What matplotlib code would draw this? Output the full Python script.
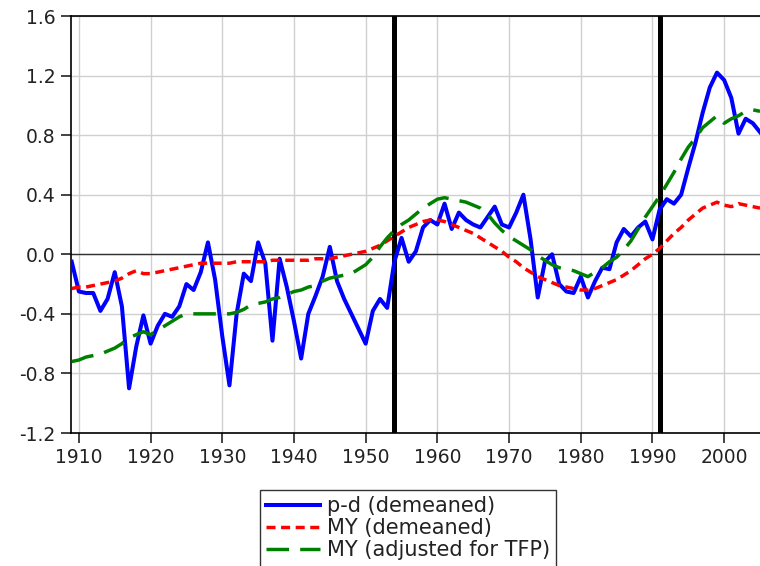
import matplotlib
matplotlib.use("Agg")
import matplotlib.pyplot as plt
import numpy as np

years = list(range(1909, 2006))

pd_demeaned = [
    -0.05, -0.25, -0.26, -0.26, -0.38, -0.30, -0.12, -0.35, -0.90, -0.62,
    -0.41, -0.60, -0.48, -0.40, -0.42, -0.35, -0.20, -0.24, -0.12, 0.08,
    -0.17, -0.55, -0.88, -0.40, -0.13, -0.18, 0.08, -0.06, -0.58, -0.03,
    -0.22, -0.45, -0.70, -0.40, -0.28, -0.15, 0.05, -0.18, -0.30, -0.40,
    -0.50, -0.60, -0.38, -0.30, -0.36, -0.05, 0.11, -0.05, 0.02, 0.18,
    0.23, 0.20, 0.34, 0.17, 0.28, 0.23, 0.20, 0.18, 0.25, 0.32,
    0.20, 0.18, 0.28, 0.40, 0.10, -0.29, -0.05, 0.00, -0.20, -0.25,
    -0.26, -0.15, -0.29, -0.18, -0.09, -0.10, 0.08, 0.17, 0.12, 0.18,
    0.22, 0.10, 0.30, 0.37, 0.34, 0.40, 0.58, 0.75, 0.95, 1.12,
    1.22, 1.17, 1.05, 0.81, 0.91, 0.88, 0.82,
]

my_demeaned = [
    -0.23, -0.22, -0.22, -0.21, -0.20, -0.19, -0.18, -0.16, -0.13, -0.11,
    -0.13, -0.13, -0.12, -0.11, -0.10, -0.09, -0.08, -0.07, -0.06, -0.06,
    -0.06, -0.06, -0.06, -0.05, -0.05, -0.05, -0.05, -0.05, -0.04, -0.04,
    -0.04, -0.04, -0.04, -0.04, -0.03, -0.03, -0.03, -0.02, -0.01, 0.00,
    0.01, 0.02, 0.04, 0.06, 0.09, 0.12, 0.15, 0.18, 0.20, 0.22,
    0.23, 0.23, 0.22, 0.20, 0.18, 0.16, 0.14, 0.11, 0.08, 0.05,
    0.02, -0.02, -0.05, -0.09, -0.12, -0.15, -0.17, -0.19, -0.21, -0.22,
    -0.23, -0.24, -0.24, -0.23, -0.21, -0.19, -0.17, -0.14, -0.11, -0.07,
    -0.03, 0.00, 0.04, 0.09, 0.14, 0.18, 0.23, 0.27, 0.31, 0.33,
    0.35, 0.33, 0.32, 0.34, 0.33, 0.32, 0.31,
]

my_tfp = [
    -0.72, -0.71, -0.69, -0.68, -0.67, -0.65, -0.63, -0.60, -0.56, -0.54,
    -0.52, -0.54, -0.51, -0.48, -0.45, -0.42, -0.40, -0.40, -0.40, -0.40,
    -0.40, -0.40, -0.40, -0.39, -0.37, -0.34, -0.33, -0.32, -0.30, -0.29,
    -0.27, -0.25, -0.24, -0.22, -0.21, -0.18, -0.16, -0.15, -0.14, -0.13,
    -0.10, -0.07, -0.02, 0.05, 0.11, 0.16, 0.20, 0.23, 0.27, 0.31,
    0.34, 0.37, 0.38, 0.37, 0.36, 0.35, 0.33, 0.31, 0.27, 0.21,
    0.16, 0.12, 0.09, 0.06, 0.03, -0.01, -0.04, -0.07, -0.09, -0.10,
    -0.11, -0.13, -0.15, -0.12, -0.09, -0.05, -0.02, 0.03, 0.09, 0.17,
    0.25, 0.32, 0.39, 0.47, 0.55, 0.64, 0.72, 0.78, 0.85, 0.89,
    0.93, 0.88, 0.91, 0.93, 0.96, 0.97, 0.96,
]

labels = ["p-d (demeaned)", "MY (demeaned)", "MY (adjusted for TFP)"]
break_years = [1954, 1991]
x_ticks = [1910, 1920, 1930, 1940, 1950, 1960, 1970, 1980, 1990, 2000]
y_ticks = [-1.2, -0.8, -0.4, 0.0, 0.4, 0.8, 1.2, 1.6]

W, H = 760, 566
fig = plt.figure(figsize=(W / 100, H / 100), dpi=100)
ax = fig.add_axes([71 / W, 1 - 433 / H, (760 - 71) / W, (433 - 16) / H])

ax.set_xlim(1908.9, 2005.0)
ax.set_ylim(-1.2, 1.6)
ax.set_xticks(x_ticks)
ax.set_yticks(y_ticks)
ax.set_yticklabels([f"{v:.1f}" for v in y_ticks])
ax.grid(True, color="#d0d0d0", linewidth=1.0, zorder=0)
ax.set_axisbelow(True)
ax.axhline(0.0, color="#333333", linewidth=1.0, zorder=1)
for by in break_years:
    ax.axvline(by, color="black", linewidth=3.6, zorder=2)

l1, = ax.plot(years, pd_demeaned, color="#0000ff", linewidth=2.9, zorder=3,
              solid_joinstyle="round")
l2, = ax.plot(years, my_demeaned, color="#ff0000", linewidth=2.5, zorder=4,
              linestyle=(0, (2.6, 1.6)))
l3, = ax.plot(years, my_tfp, color="#008000", linewidth=2.5, zorder=5,
              linestyle=(0, (6.5, 3.2)))

for s in ["left", "bottom", "top"]:
    ax.spines[s].set_color("black")
    ax.spines[s].set_linewidth(1.2)
ax.spines["right"].set_visible(False)
ax.tick_params(axis="both", direction="out", length=7, width=1.2,
               labelsize=13.5, pad=4, colors="#222222")

leg = fig.legend([l1, l2, l3], labels, loc="upper left",
                 bbox_to_anchor=(260 / W, 1 - 490 / H),
                 bbox_transform=fig.transFigure, fontsize=15,
                 frameon=True, fancybox=False, edgecolor="black",
                 handlelength=2.6, handletextpad=0.3, labelspacing=0.1,
                 borderpad=0.3, borderaxespad=0.0)
leg.get_frame().set_linewidth(1.0)
for t in leg.get_texts():
    t.set_color("#222222")

fig.savefig("out.png", dpi=100)
